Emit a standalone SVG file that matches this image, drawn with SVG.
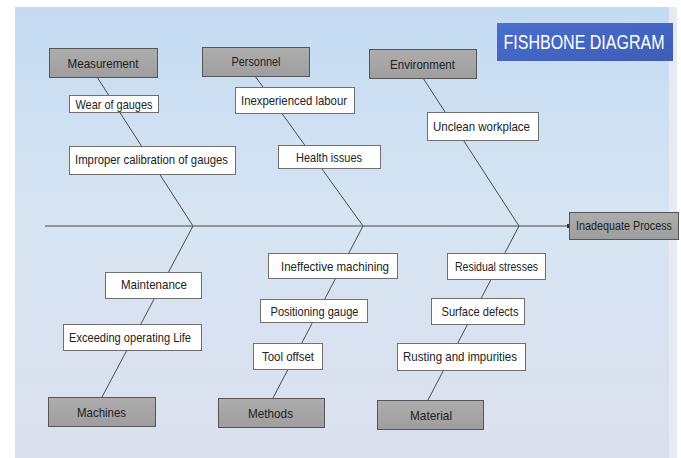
<svg xmlns="http://www.w3.org/2000/svg" width="681" height="458" viewBox="0 0 681 458">
<defs>
<linearGradient id="bg" x1="0" y1="0" x2="0" y2="1">
<stop offset="0" stop-color="#c4dbf2"/>
<stop offset="0.45" stop-color="#d6e4f2"/>
<stop offset="1" stop-color="#dbe0ee"/>
</linearGradient>
<linearGradient id="grey" x1="0" y1="0" x2="0" y2="1">
<stop offset="0" stop-color="#adadad"/>
<stop offset="1" stop-color="#9e9e9e"/>
</linearGradient>
<linearGradient id="blue" x1="0" y1="0" x2="1" y2="1">
<stop offset="0" stop-color="#4a6fcf"/>
<stop offset="1" stop-color="#3d5cb5"/>
</linearGradient>
<marker id="dot" markerWidth="4" markerHeight="4" refX="2" refY="2" markerUnits="userSpaceOnUse">
<rect x="0" y="0" width="4" height="4" fill="#333"/>
</marker>
</defs>
<style>
text{font-family:"Liberation Sans",Arial,sans-serif;fill:#222;text-anchor:middle;dominant-baseline:central;font-size:13.5px}
.c rect{fill:url(#grey);stroke:#555;stroke-width:1}
.b rect{fill:#fff;stroke:#6f6f6f;stroke-width:1}
.bone{stroke:#4a4a4a;stroke-width:1;fill:none}
</style>
<rect x="0" y="0" width="681" height="458" fill="#fff"/>
<rect x="15" y="7" width="654" height="451" fill="url(#bg)"/>
<rect x="669" y="7" width="8" height="451" fill="#e6ebf3"/>

<g id="connectors">
<line class="bone" x1="45" y1="226" x2="569" y2="226" stroke="#333" marker-end="url(#dot)"/>
<line class="bone" x1="97" y1="77" x2="193" y2="226"/>
<line class="bone" x1="255" y1="76" x2="363" y2="226"/>
<line class="bone" x1="423" y1="78" x2="519" y2="226"/>
<line class="bone" x1="193" y1="226" x2="102" y2="397"/>
<line class="bone" x1="363" y1="226" x2="273" y2="398"/>
<line class="bone" x1="519" y1="226" x2="428" y2="400"/>
</g>

<g id="title"><rect x="497" y="23" width="176" height="38" fill="url(#blue)"/><text transform="translate(584,42) scale(0.763,1)" x="0" y="0" style="fill:#fff;font-size:21px">FISHBONE DIAGRAM</text></g>

<g id="effect" class="c"><rect x="569.5" y="212.5" width="109" height="27"/><text transform="translate(624,226) scale(0.8,1)" x="0" y="0">Inadequate Process</text></g>

<g id="measurement" class="c"><rect x="49.5" y="48.5" width="108" height="29"/><text x="103" y="63" textLength="71" lengthAdjust="spacingAndGlyphs">Measurement</text></g>
<g id="personnel" class="c"><rect x="202.5" y="47.5" width="107" height="29"/><text x="256" y="61.5" textLength="49" lengthAdjust="spacingAndGlyphs">Personnel</text></g>
<g id="environment" class="c"><rect x="369.5" y="49.5" width="107" height="29"/><text x="422.5" y="64" textLength="65" lengthAdjust="spacingAndGlyphs">Environment</text></g>
<g id="machines" class="c"><rect x="48.5" y="397.5" width="107" height="29"/><text x="101.5" y="412" textLength="49" lengthAdjust="spacingAndGlyphs">Machines</text></g>
<g id="methods" class="c"><rect x="218.5" y="398.5" width="106" height="29"/><text x="270.5" y="413" textLength="45" lengthAdjust="spacingAndGlyphs">Methods</text></g>
<g id="material" class="c"><rect x="377.5" y="400.5" width="106" height="29"/><text x="431" y="415" textLength="42" lengthAdjust="spacingAndGlyphs">Material</text></g>

<g id="wear" class="b"><rect x="69.5" y="95.5" width="89" height="17"/><text x="114" y="104" textLength="77" lengthAdjust="spacingAndGlyphs">Wear of gauges</text></g>
<g id="calibration" class="b"><rect x="69.5" y="146.5" width="166" height="28"/><text x="151.5" y="159" textLength="153" lengthAdjust="spacingAndGlyphs">Improper calibration of gauges</text></g>
<g id="labour" class="b"><rect x="235.5" y="87.5" width="119" height="26"/><text x="294" y="100" textLength="106" lengthAdjust="spacingAndGlyphs">Inexperienced labour</text></g>
<g id="health" class="b"><rect x="278.5" y="145.5" width="102" height="23"/><text x="329" y="157" textLength="66" lengthAdjust="spacingAndGlyphs">Health issues</text></g>
<g id="unclean" class="b"><rect x="427.5" y="112.5" width="111" height="28"/><text x="481.5" y="126" textLength="97" lengthAdjust="spacingAndGlyphs">Unclean workplace</text></g>
<g id="maintenance" class="b"><rect x="105.5" y="272.5" width="96" height="26"/><text x="154" y="284.5" textLength="66" lengthAdjust="spacingAndGlyphs">Maintenance</text></g>
<g id="exceeding" class="b"><rect x="63.5" y="324.5" width="138" height="26"/><text x="130" y="337" textLength="122" lengthAdjust="spacingAndGlyphs">Exceeding operating Life</text></g>
<g id="ineffective" class="b"><rect x="268.5" y="253.5" width="129" height="25"/><text x="335" y="266" textLength="108" lengthAdjust="spacingAndGlyphs">Ineffective machining</text></g>
<g id="positioning" class="b"><rect x="260.5" y="299.5" width="107" height="23"/><text x="314.5" y="311" textLength="88" lengthAdjust="spacingAndGlyphs">Positioning gauge</text></g>
<g id="tool" class="b"><rect x="253.5" y="343.5" width="69" height="26"/><text x="288" y="356" textLength="52" lengthAdjust="spacingAndGlyphs">Tool offset</text></g>
<g id="residual" class="b"><rect x="447.5" y="253.5" width="98" height="26"/><text x="496.5" y="266.5" textLength="83" lengthAdjust="spacingAndGlyphs">Residual stresses</text></g>
<g id="surface" class="b"><rect x="431.5" y="298.5" width="93" height="26"/><text x="480" y="311.5" textLength="77" lengthAdjust="spacingAndGlyphs">Surface defects</text></g>
<g id="rusting" class="b"><rect x="397.5" y="343.5" width="128" height="27"/><text x="460" y="356.5" textLength="114" lengthAdjust="spacingAndGlyphs">Rusting and impurities</text></g>
</svg>
